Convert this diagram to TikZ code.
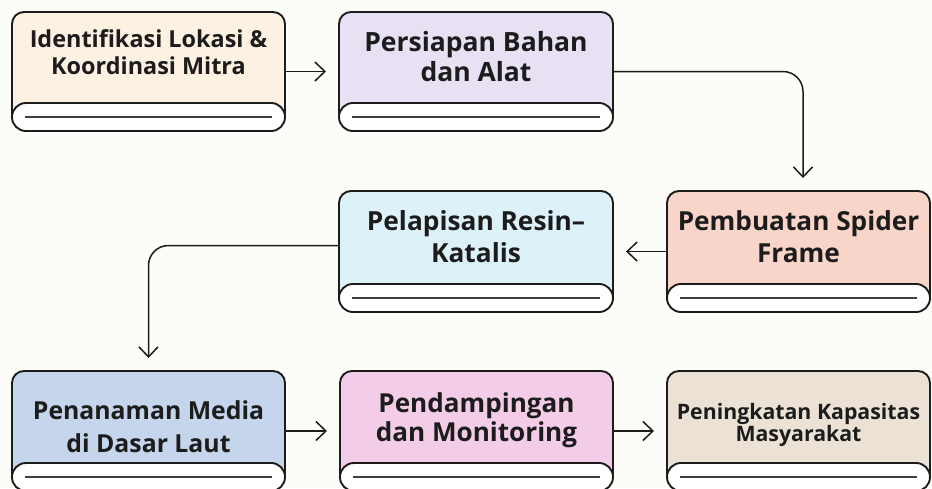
\documentclass[tikz,border=0pt]{standalone}
\usepackage{fontspec}
\setmainfont{Open Sans}
\usetikzlibrary{arrows.meta,calc}
\definecolor{bg}{HTML}{FCFCF8}
\definecolor{ink}{HTML}{1C1C1C}
\definecolor{cA}{HTML}{FDF1E2}
\definecolor{cB}{HTML}{E7E1F3}
\definecolor{cC}{HTML}{F8D5C8}
\definecolor{cD}{HTML}{DDF1F8}
\definecolor{cE}{HTML}{C5D5EB}
\definecolor{cF}{HTML}{F3CDE8}
\definecolor{cG}{HTML}{EBE2D5}
\tikzset{
  boxframe/.style={inner sep=0pt, outer sep=0pt},
  lbl/.style={align=center, text=ink, inner sep=0pt},
  arr/.style={draw=ink, line width=1.5pt, -{Straight Barb[length=10pt,width=19pt]}, shorten >=13pt},
  outline/.style={draw=ink, line width=1.9pt},
}
\begin{document}
\begin{tikzpicture}[x=1pt,y=-1pt]
\useasboundingbox (0,0) rectangle (932,488);
\clip (0,0) rectangle (932,488);
\fill[bg] (0,0) rectangle (932,488);

\node[boxframe, minimum width=273pt, minimum height=119pt] (b1) at (148.5,71.5) {};
\node[boxframe, minimum width=274pt, minimum height=119pt] (b2) at (476,71.5) {};
\node[boxframe, minimum width=263pt, minimum height=121pt] (b3) at (798.5,251.5) {};
\node[boxframe, minimum width=274pt, minimum height=121pt] (b4) at (476,251.5) {};
\node[boxframe, minimum width=273pt, minimum height=120pt] (b5) at (148.5,431) {};
\node[boxframe, minimum width=273pt, minimum height=120pt] (b6) at (476.5,431) {};
\node[boxframe, minimum width=263pt, minimum height=120pt] (b7) at (798.5,431) {};

\foreach \n/\c in {b1/cA,b2/cB,b3/cC,b4/cD,b5/cE,b6/cF,b7/cG}{
  \filldraw[outline, fill=\c, rounded corners=12pt]
    ([yshift=14pt]\n.south west) -- (\n.north west) -- (\n.north east) -- ([yshift=14pt]\n.south east);
  \draw[outline, fill=white, rounded corners=13.9pt]
    (\n.south west) rectangle ([yshift=28pt]\n.south east);
  \draw[draw=ink!85, line width=1.6pt]
    ([xshift=13pt,yshift=14pt]\n.south west) -- ([xshift=-13pt,yshift=14pt]\n.south east);
}

\node[lbl, font=\fontsize{23.4}{27}\bfseries\selectfont] (t1) at (148.5,52) {Identifikasi Lokasi \&\\Koordinasi Mitra};
\node[lbl, font=\fontsize{26.5}{30}\bfseries\selectfont] (t2) at (476,57) {Persiapan Bahan\\dan Alat};
\node[lbl, font=\fontsize{26.2}{32}\bfseries\selectfont] (t3) at (798.5,237) {Pembuatan Spider\\Frame};
\node[lbl, font=\fontsize{26.3}{32}\bfseries\selectfont] (t4) at (476,236.5) {Pelapisan Resin–\\Katalis};
\node[lbl, font=\fontsize{24.8}{33}\bfseries\selectfont] (t5) at (148.5,426.5) {Penanaman Media\\di Dasar Laut};
\node[lbl, font=\fontsize{26.1}{29}\bfseries\selectfont] (t6) at (476.5,420) {Pendampingan\\dan Monitoring};
\node[lbl, font=\fontsize{21.3}{22}\bfseries\selectfont] (t7) at (798.5,424.5) {Peningkatan Kapasitas\\Masyarakat};

\draw[arr] (b1.east) -- (b2.west);
\draw[arr, rounded corners=20pt] (b2.east) -| ([xshift=4.5pt]b3.north);
\draw[arr] (b3.west) -- (b4.east);
\draw[arr, rounded corners=20pt] ([yshift=6pt]b4.west) -| (b5.north);
\draw[arr] (b5.east) -- (b6.west);
\draw[arr] (b6.east) -- (b7.west);
\end{tikzpicture}
\end{document}
